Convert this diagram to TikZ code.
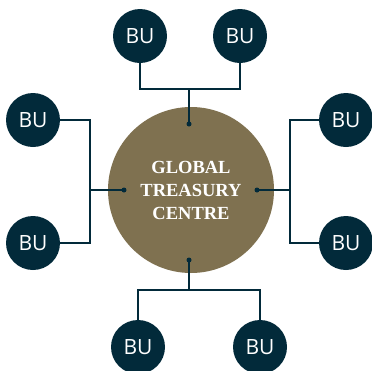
\documentclass[tikz,border=0pt]{standalone}
\usepackage{fontspec}
\setmainfont{Liberation Serif}
\newfontfamily\bufont{Open Sans}
\definecolor{navy}{HTML}{022A3A}
\definecolor{gold}{HTML}{7F7150}
\begin{document}
\begin{tikzpicture}[x=1pt,y=-1pt,
  bu/.style={circle,fill=navy,minimum size=54pt,inner sep=0pt,text=white,font=\bufont\fontsize{21}{24}\selectfont},
  hub/.style={circle,fill=gold,minimum size=166pt,inner sep=0pt,text=white,align=center,font=\bfseries\fontsize{18.5}{23}\selectfont},
  link/.style={draw=navy,line width=2pt},
  dot/.style={circle,fill=navy,inner sep=0pt,minimum size=5pt}]
\useasboundingbox (0,0) rectangle (372,370);
\node[hub] (c) at (191,190) {GLOBAL\\TREASURY\\CENTRE};
\node[bu] (t1) at (140,36) {BU};
\node[bu] (t2) at (240,36) {BU};
\node[bu] (l1) at (33,120) {BU};
\node[bu] (l2) at (33,243) {BU};
\node[bu] (r1) at (346,120) {BU};
\node[bu] (r2) at (346,243) {BU};
\node[bu] (b1) at (138,347) {BU};
\node[bu] (b2) at (260,347) {BU};
\node[dot] (dt) at (189,124) {};
\node[dot] (db) at (189,260) {};
\node[dot] (dl) at (124,190) {};
\node[dot] (dr) at (257,190) {};
\coordinate (jt) at (189,89);
\coordinate (jb) at (189,290);
\coordinate (jl) at (90,190);
\coordinate (jr) at (290,190);
\draw[link] (t1.south) |- (jt) -| (t2.south);
\draw[link] (jt) -- (dt.center);
\draw[link] (b1.north) |- (jb) -| (b2.north);
\draw[link] (jb) -- (db.center);
\draw[link] (l1.east) -| (jl) |- (l2.east);
\draw[link] (jl) -- (dl.center);
\draw[link] (r1.west) -| (jr) |- (r2.west);
\draw[link] (jr) -- (dr.center);
\end{tikzpicture}
\end{document}
